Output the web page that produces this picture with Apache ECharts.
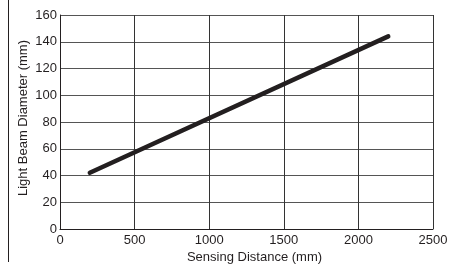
<!DOCTYPE html>
<html>
<head>
<meta charset="utf-8">
<script src="https://cdn.jsdelivr.net/npm/echarts@6/dist/echarts.min.js"></script>
<style>
  html, body { margin: 0; padding: 0; background: #fff; }
  #chart { width: 459px; height: 264px; }
</style>
</head>
<body>
<div id="chart"></div>
<script>
// sensing distance (mm) vs light beam diameter (mm)
const distance = [200, 2200]
const diameter = [42, 144]
const xTicks = [0, 500, 1000, 1500, 2000, 2500]
const yTicks = [0, 20, 40, 60, 80, 100, 120, 140, 160]

const chart = echarts.init(document.getElementById('chart'))

const labelStyle = {
  color: '#231f20',
  fontFamily: 'Liberation Sans, Arial, sans-serif',
  fontSize: 13,
}

const option = {
  animation: false,
  grid: { left: 60, top: 15, right: 26, bottom: 35, outerBoundsMode: 'none' },
  graphic: [
    {
      type: 'line',
      shape: { x1: 8.5, y1: 0, x2: 8.5, y2: 262 },
      style: { stroke: '#231f20', lineWidth: 1 },
    },
  ],
  xAxis: {
    type: 'value',
    min: xTicks[0],
    max: xTicks[xTicks.length - 1],
    interval: 500,
    name: 'Sensing Distance (mm)',
    nameLocation: 'middle',
    nameGap: 22,
    nameMoveOverlap: false,
    nameTextStyle: Object.assign({ padding: [0, 0, 0, 16] }, labelStyle),
    axisLine: { show: true, lineStyle: { color: '#231f20', width: 1 } },
    axisTick: { show: false },
    axisLabel: Object.assign({ margin: 5, formatter: v => String(v) }, labelStyle),
    splitLine: { show: true, lineStyle: { color: '#333', width: 1 } },
  },
  yAxis: {
    type: 'value',
    min: yTicks[0],
    max: yTicks[yTicks.length - 1],
    interval: 20,
    name: 'Light Beam Diameter (mm)',
    nameLocation: 'middle',
    nameGap: 30,
    nameMoveOverlap: false,
    nameTextStyle: Object.assign({ padding: [0, 0, 0, 8] }, labelStyle),
    axisLine: { show: true, lineStyle: { color: '#231f20', width: 1 } },
    axisTick: { show: false },
    axisLabel: Object.assign({ margin: 3, formatter: v => String(v) }, labelStyle),
    splitLine: { show: true, lineStyle: { color: '#555', width: 1 } },
  },
  series: [
    {
      type: 'line',
      data: distance.map((d, i) => [d, diameter[i]]),
      symbol: 'none',
      lineStyle: { color: '#231f20', width: 4.5, cap: 'round' },
    },
  ],
}

chart.setOption(option)
</script>
</body>
</html>
